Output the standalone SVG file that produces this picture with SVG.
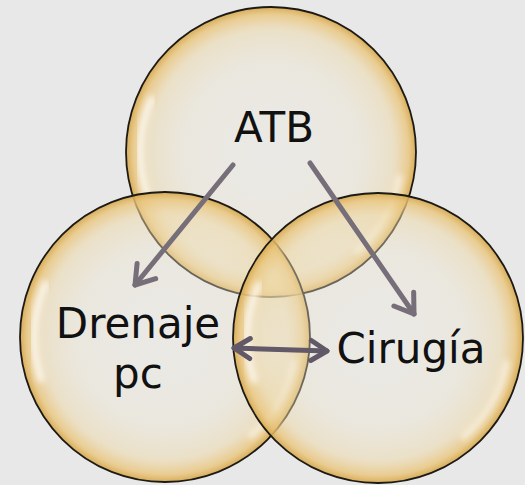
<svg xmlns="http://www.w3.org/2000/svg" xmlns:xlink="http://www.w3.org/1999/xlink" width="525" height="485" viewBox="0 0 525 485">
<defs>
<radialGradient id="fillG" cx="0" cy="0" r="145" gradientUnits="userSpaceOnUse">
<stop offset="0" stop-color="#f0ece0" stop-opacity="0.3"/>
<stop offset="0.6" stop-color="#eee6cf" stop-opacity="0.38"/>
<stop offset="0.84" stop-color="#eed9a8" stop-opacity="0.5"/>
<stop offset="0.95" stop-color="#e9c479" stop-opacity="0.8"/>
<stop offset="1" stop-color="#d6a84f" stop-opacity="0.95"/>
</radialGradient>
<filter id="blur" x="-20%" y="-20%" width="140%" height="140%"><feGaussianBlur stdDeviation="3"/></filter>
<marker id="ah1" markerUnits="userSpaceOnUse" markerWidth="34" markerHeight="34" viewBox="0 0 34 34" refX="28" refY="17" orient="auto-start-reverse">
<path d="M10,5 L28,17 L10,29" fill="none" stroke="#766e78" stroke-width="5" stroke-linecap="round" stroke-linejoin="round"/>
</marker>
<marker id="ah2" markerUnits="userSpaceOnUse" markerWidth="34" markerHeight="34" viewBox="0 0 34 34" refX="28" refY="17" orient="auto-start-reverse">
<path d="M12,7 L28,17 L12,27" fill="none" stroke="#615868" stroke-width="5" stroke-linecap="round" stroke-linejoin="round"/>
</marker>
<g id="bubble">
<circle r="145" fill="url(#fillG)"/>
<path d="M-118.7,-55.4 A131,131 0 0 0 -123.1,44.8" fill="none" stroke="#ffffff" stroke-width="7" stroke-opacity="0.8" filter="url(#blur)"/>
<path d="M84.2,100.4 A131,131 0 0 0 129,22.7" fill="none" stroke="#ffffff" stroke-width="6" stroke-opacity="0.65" filter="url(#blur)"/>
<circle r="145" fill="none" stroke="#1c1a16" stroke-width="1.8"/>
</g>
</defs>
<style>
.lbl{font-family:"DejaVu Sans","Liberation Sans",sans-serif;font-size:42px;fill:#111111;text-anchor:middle}
.con{fill:none;stroke-width:5;stroke-linecap:round}
</style>
<rect width="525" height="485" fill="#e8e8e8"/>
<g id="atb">
<use xlink:href="#bubble" transform="translate(271,152)"/>
</g>
<g id="drenaje">
<use xlink:href="#bubble" transform="translate(165,337)"/>
</g>
<g id="cirugia">
<use xlink:href="#bubble" transform="translate(378,338)"/>
</g>
<g id="connectors">
<path class="con" d="M233,165 L135,285" stroke="#766e78" marker-end="url(#ah1)"/>
<path class="con" d="M310,163 L414,314" stroke="#766e78" marker-end="url(#ah1)"/>
<path class="con" d="M234,348 L327,351" stroke="#615868" marker-start="url(#ah2)" marker-end="url(#ah2)"/>
</g>
<g id="labels">
<text class="lbl" x="274" y="142">ATB</text>
<text class="lbl" x="138" y="338">Drenaje</text>
<text class="lbl" x="138" y="388">pc</text>
<text class="lbl" x="411" y="363">Cirugía</text>
</g>
</svg>
